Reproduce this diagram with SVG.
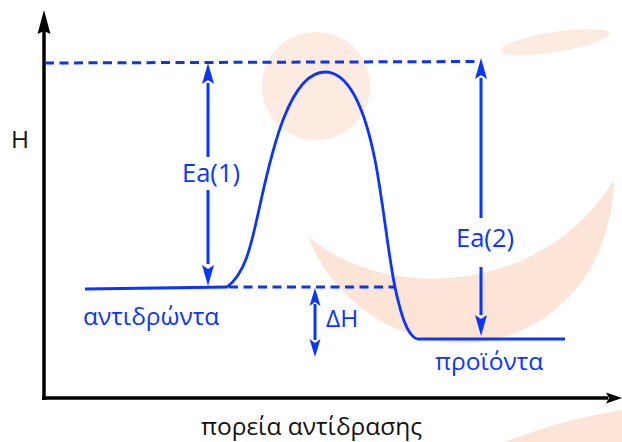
<svg xmlns="http://www.w3.org/2000/svg" width="622" height="442" viewBox="0 0 622 442">
<style>
.wm{fill:#fdeae0;stroke:none}
.wm2{fill:#fce4d6;stroke:none}
.blue{stroke:#0a35ff;fill:none}
.ax{stroke:#000;stroke-width:3.5;fill:none}
.dash{stroke:#0a35ff;stroke-width:3;stroke-dasharray:9 5.5;fill:none}
.lbl{font-family:"Open Sans","Noto Sans",sans-serif;font-size:24.5px}
.ea{font-size:25.5px}
.bt{fill:#0a35ff}
.kt{fill:#111}
</style>
<g id="watermark">
<circle class="wm" cx="316" cy="86" r="54"/>
<ellipse class="wm" cx="555" cy="42" rx="55" ry="10" transform="rotate(-9 555 42)"/>
<path class="wm2" d="M308,236 C380,300 540,300 614,180 C610,300 520,345 460,343 C390,342 330,295 308,236 Z"/>
<path class="wm2" d="M505,442 Q560,420 622,410 L622,442 Z"/>
</g>
<g id="axes">
<line class="ax" x1="44" y1="30" x2="44" y2="400"/>
<path d="M44,10 L50.5,34 L44,31 L37.5,34 Z" fill="#000"/>
<line class="ax" x1="42" y1="398" x2="608" y2="398"/>
<path d="M622,398 L606,392.5 L609,398 L606,403.5 Z" fill="#000"/>
</g>
<g id="connectors">
<line class="dash" x1="45" y1="63" x2="480" y2="61.5"/>
<line class="dash" x1="229" y1="287" x2="395" y2="287"/>
<path id="curve" class="blue" stroke-width="2.8" d="M227,287 C247,272 252,240 260,205 C270,160 288,72 325,72 C350,72 365,110 375,160 C383,200 389,262 396,292 C400,309 406,335 417,339"/>
<path class="blue" stroke-width="3" d="M208,83 L208,157"/>
<path class="blue" stroke-width="3" d="M208,190 L208,264"/>
<path d="M208,63 L214,84 L208,80 L202,84 Z" fill="#0a35ff"/>
<path d="M208,286 L214,265 L208,269 L202,265 Z" fill="#0a35ff"/>
<path class="blue" stroke-width="3" d="M481,78 L481,218"/>
<path class="blue" stroke-width="3" d="M481,267 L481,315"/>
<path d="M481,58 L487,79 L481,75 L475,79 Z" fill="#0a35ff"/>
<path d="M481,336 L487,315 L481,319 L475,315 Z" fill="#0a35ff"/>
<path class="blue" stroke-width="3" d="M315,304 L315,340"/>
<path d="M315,288 L320.5,306 L315,302 L309.5,306 Z" fill="#0a35ff"/>
<path d="M315,357 L320.5,339 L315,343 L309.5,339 Z" fill="#0a35ff"/>
</g>
<g id="reactants">
<line class="blue" stroke-width="3" x1="85" y1="289" x2="228" y2="287"/>
<text class="lbl bt" x="83" y="325">αντιδρώντα</text>
</g>
<g id="products">
<line class="blue" stroke-width="3" x1="417" y1="339" x2="565" y2="339"/>
<text class="lbl bt" x="435" y="370">προϊόντα</text>
</g>
<g id="ea1"><text class="lbl ea bt" x="211" y="182" text-anchor="middle">Ea(1)</text></g>
<g id="ea2"><text class="lbl ea bt" x="485" y="247" text-anchor="middle">Ea(2)</text></g>
<g id="dh"><text class="lbl bt" x="326" y="327">ΔH</text></g>
<g id="ylabel"><text class="lbl kt" x="11" y="148">H</text></g>
<g id="xlabel"><text class="lbl kt" x="201" y="435">πορεία αντίδρασης</text></g>
</svg>
